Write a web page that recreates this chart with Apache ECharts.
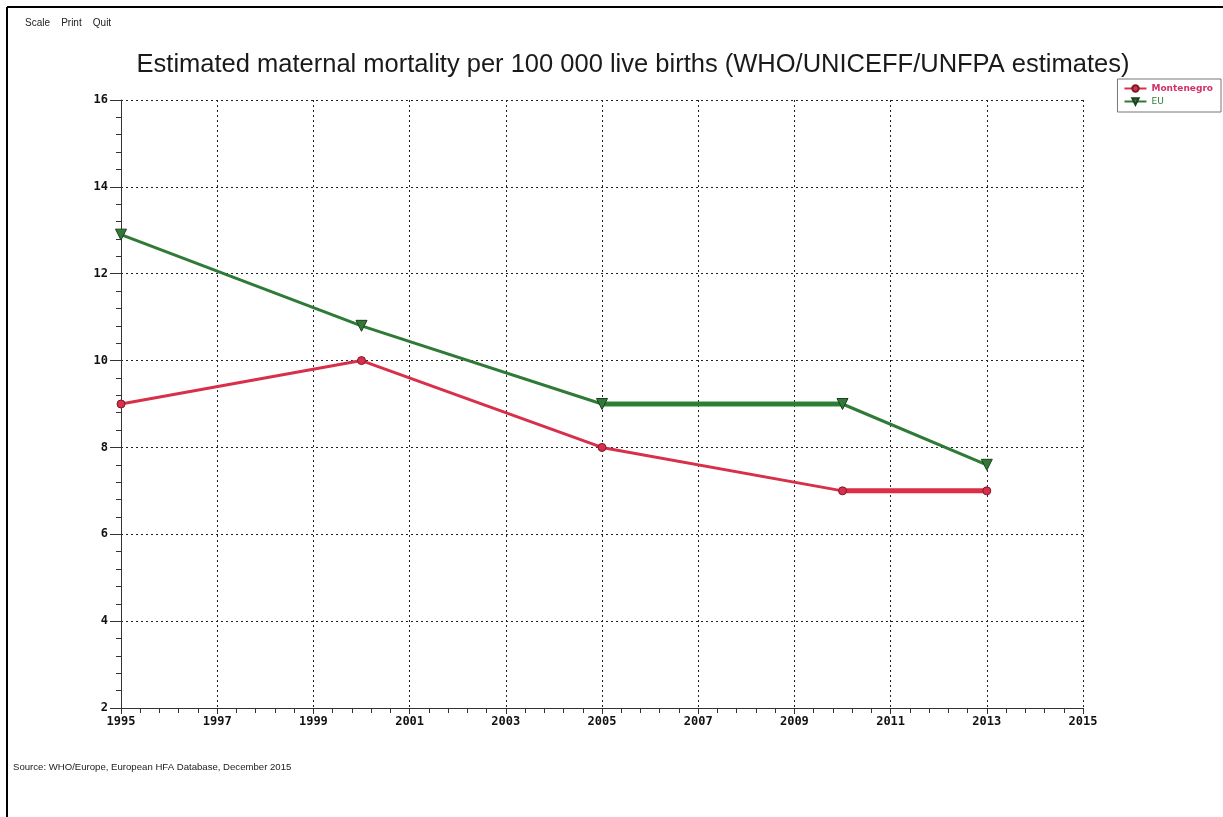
<!DOCTYPE html>
<html>
<head>
<meta charset="utf-8">
<script src="https://cdn.jsdelivr.net/npm/echarts@6/dist/echarts.min.js"></script>
<style>
  html, body { margin: 0; padding: 0; background: #fff; }
  #chart { width: 1223px; height: 817px; }
</style>
</head>
<body>
<div id="chart"></div>
<script>
// data
const years = [1995, 2000, 2005, 2010, 2013]
const montenegro = [9, 10, 8, 7, 7]
const eu = [12.9, 10.8, 9, 9, 7.6]
// the source draws a few segments thicker than the rest
const euThickIdx = [2, 3]
const mneThickIdx = [3, 4]

const pairs = (xs, ys) => xs.map((x, i) => [x, ys[i]])
const pick = (arr, idx) => idx.map(i => arr[i])

const mneColor = '#d8304a'
const euColor = '#2f7a36'
const labelFont = {fontFamily: 'DejaVu Sans Mono', fontWeight: 'bold', fontSize: 12, color: '#111'}

let chart = echarts.init(document.getElementById('chart'))

let option = {
    animation: false,
    title: {
        text: 'Estimated maternal mortality per 100 000 live births (WHO/UNICEFF/UNFPA estimates)',
        left: 628,
        textAlign: 'center',
        top: 47,
        textStyle: {fontFamily: 'Liberation Sans', fontWeight: 'normal', fontSize: 25.5, color: '#1a1a1a'}
    },
    grid: {left: 121, right: 140, top: 100, bottom: 109, show: false},
    legend: {
        right: 2,
        top: 79,
        orient: 'vertical',
        itemWidth: 22,
        itemHeight: 8,
        itemGap: 4,
        padding: [5, 8, 6, 6],
        borderColor: '#777',
        borderWidth: 1,
        data: [
            {name: 'Montenegro', textStyle: {color: '#d2306a', fontWeight: 'bold'}},
            {name: 'EU', textStyle: {color: '#2f7a36'}}
        ],
        textStyle: {fontFamily: 'DejaVu Sans', fontSize: 9}
    },
    xAxis: {
        type: 'value',
        min: 1995,
        max: 2015,
        interval: 2,
        axisLine: {show: true, onZero: false, lineStyle: {color: '#333', width: 1}},
        axisTick: {show: true, length: 6, lineStyle: {color: '#333'}},
        minorTick: {show: true, splitNumber: 5, length: 5, lineStyle: {color: '#333'}},
        axisLabel: Object.assign({margin: 8, formatter: v => String(v)}, labelFont),
        splitLine: {show: true, lineStyle: {color: '#222', type: [2, 3], width: 1}}
    },
    yAxis: {
        type: 'value',
        min: 2,
        max: 16,
        interval: 2,
        axisLine: {show: true, onZero: false, lineStyle: {color: '#333', width: 1}},
        axisTick: {show: true, length: 11, lineStyle: {color: '#333'}},
        minorTick: {show: true, splitNumber: 5, length: 5, lineStyle: {color: '#333'}},
        axisLabel: Object.assign({margin: 13}, labelFont),
        splitLine: {show: true, lineStyle: {color: '#222', type: [2, 3], width: 1}}
    },
    graphic: [
        {type: 'line', shape: {x1: 7, y1: 7, x2: 1223, y2: 7}, style: {stroke: '#000', lineWidth: 2}},
        {type: 'line', shape: {x1: 7, y1: 7, x2: 7, y2: 817}, style: {stroke: '#000', lineWidth: 2}},
        {type: 'text', left: 25, top: 18, style: {text: 'Scale    Print    Quit', font: '10px Liberation Sans', fill: '#222'}},
        {type: 'text', left: 13, top: 762, style: {text: 'Source: WHO/Europe, European HFA Database, December 2015', font: '9.6px Liberation Sans', fill: '#222'}}
    ],
    series: [
        {
            name: 'Montenegro',
            type: 'line',
            data: pairs(years, montenegro),
            symbol: 'circle',
            symbolSize: 8,
            lineStyle: {color: mneColor, width: 3},
            itemStyle: {color: mneColor, borderColor: '#7a1a2a', borderWidth: 1},
            z: 3
        },
        {
            name: 'EU',
            type: 'line',
            data: pairs(years, eu),
            symbol: 'triangle',
            symbolRotate: 180,
            symbolSize: 11,
            lineStyle: {color: euColor, width: 3},
            itemStyle: {color: euColor, borderColor: '#1f3f22', borderWidth: 1},
            z: 4
        },
        {
            name: 'EU-thick',
            type: 'line',
            data: pairs(pick(years, euThickIdx), pick(eu, euThickIdx)),
            showSymbol: false,
            silent: true,
            lineStyle: {color: '#2a8a2e', width: 5},
            z: 2
        },
        {
            name: 'MNE-thick',
            type: 'line',
            data: pairs(pick(years, mneThickIdx), pick(montenegro, mneThickIdx)),
            showSymbol: false,
            silent: true,
            lineStyle: {color: '#e02a3a', width: 5},
            z: 2
        }
    ]
}

chart.setOption(option)
</script>
</body>
</html>
